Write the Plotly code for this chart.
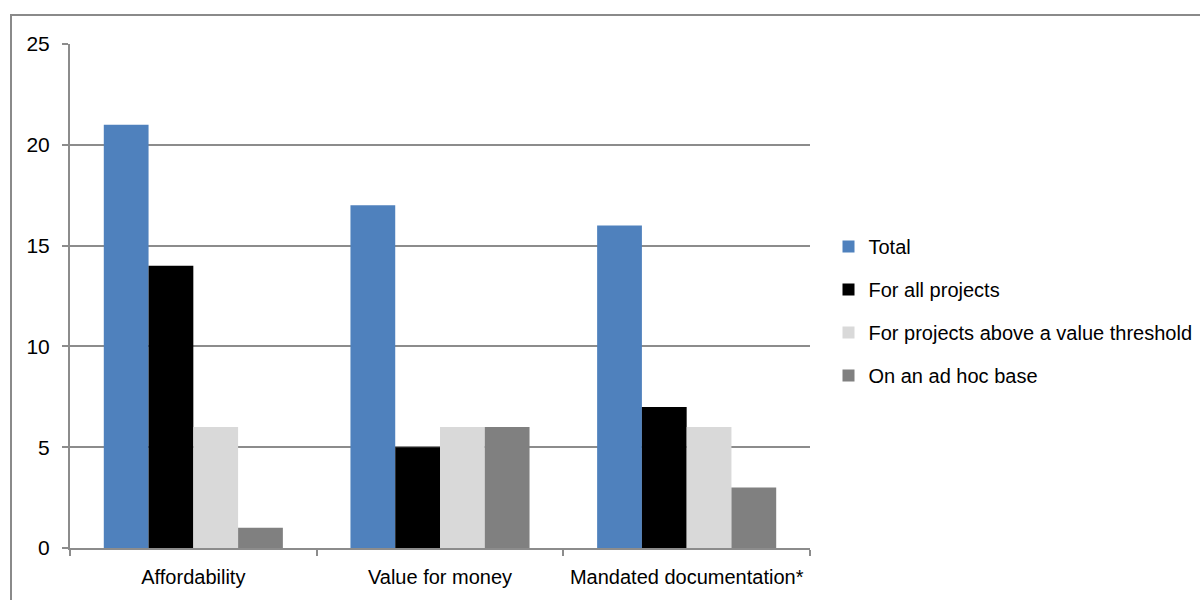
import plotly.graph_objects as go

categories = ["Affordability", "Value for money", "Mandated documentation*"]
series_names = ["Total", "For all projects", "For projects above a value threshold", "On an ad hoc base"]
total = [21, 17, 16]
for_all_projects = [14, 5, 7]
above_threshold = [6, 6, 6]
ad_hoc = [1, 6, 3]
series_values = [total, for_all_projects, above_threshold, ad_hoc]
series_colors = ["#4F81BD", "#000000", "#D9D9D9", "#808080"]
y_ticks = [0, 5, 10, 15, 20, 25]

FONT = "Liberation Sans, Arial, sans-serif"
GRID = "#8C8C8C"

fig = go.Figure()
for i, (name, vals, col) in enumerate(zip(series_names, series_values, series_colors)):
    fig.add_trace(go.Bar(
        name=name, x=categories, y=vals,
        marker=dict(color=col, line=dict(width=0)),
        legendgroup=f"g{i}",
    ))

fig.update_layout(
    width=1200, height=600,
    margin=dict(l=70, r=390, t=44, b=52, autoexpand=False),
    paper_bgcolor="white", plot_bgcolor="white",
    barmode="group", bargap=0.274, bargroupgap=0,
    font=dict(family=FONT, size=20, color="#000000"),
    showlegend=True,
    legend=dict(
        x=1.025, xanchor="left", y=0.47, yanchor="middle",
        font=dict(family=FONT, size=20, color="#000000"),
        tracegroupgap=14, bgcolor="rgba(0,0,0,0)",
    ),
    xaxis=dict(
        type="category", showgrid=False, showline=True, linecolor=GRID, linewidth=2,
        ticks="outside", tickson="boundaries", ticklen=6, tickcolor=GRID, tickwidth=2,
        ticklabelstandoff=10, tickangle=0, automargin=False,
        tickfont=dict(family=FONT, size=20, color="#000000"),
    ),
    yaxis=dict(
        range=[0, 25], tickvals=y_ticks, showgrid=True, gridcolor=GRID, gridwidth=1.5,
        showline=True, linecolor=GRID, linewidth=2, zeroline=False,
        ticks="outside", ticklen=6, tickcolor=GRID, tickwidth=1.5,
        ticklabelstandoff=8, automargin=False,
        tickfont=dict(family=FONT, size=21, color="#000000"),
    ),
)

# Outer chart frame
fig.add_shape(
    type="rect", xref="paper", yref="paper",
    x0=(11 - 70) / 740, x1=1.6, y0=-0.3, y1=1 + (44 - 15) / 504,
    line=dict(color="#8A8A8A", width=2), fillcolor="rgba(0,0,0,0)", layer="below",
)

fig.write_html("out.html")
